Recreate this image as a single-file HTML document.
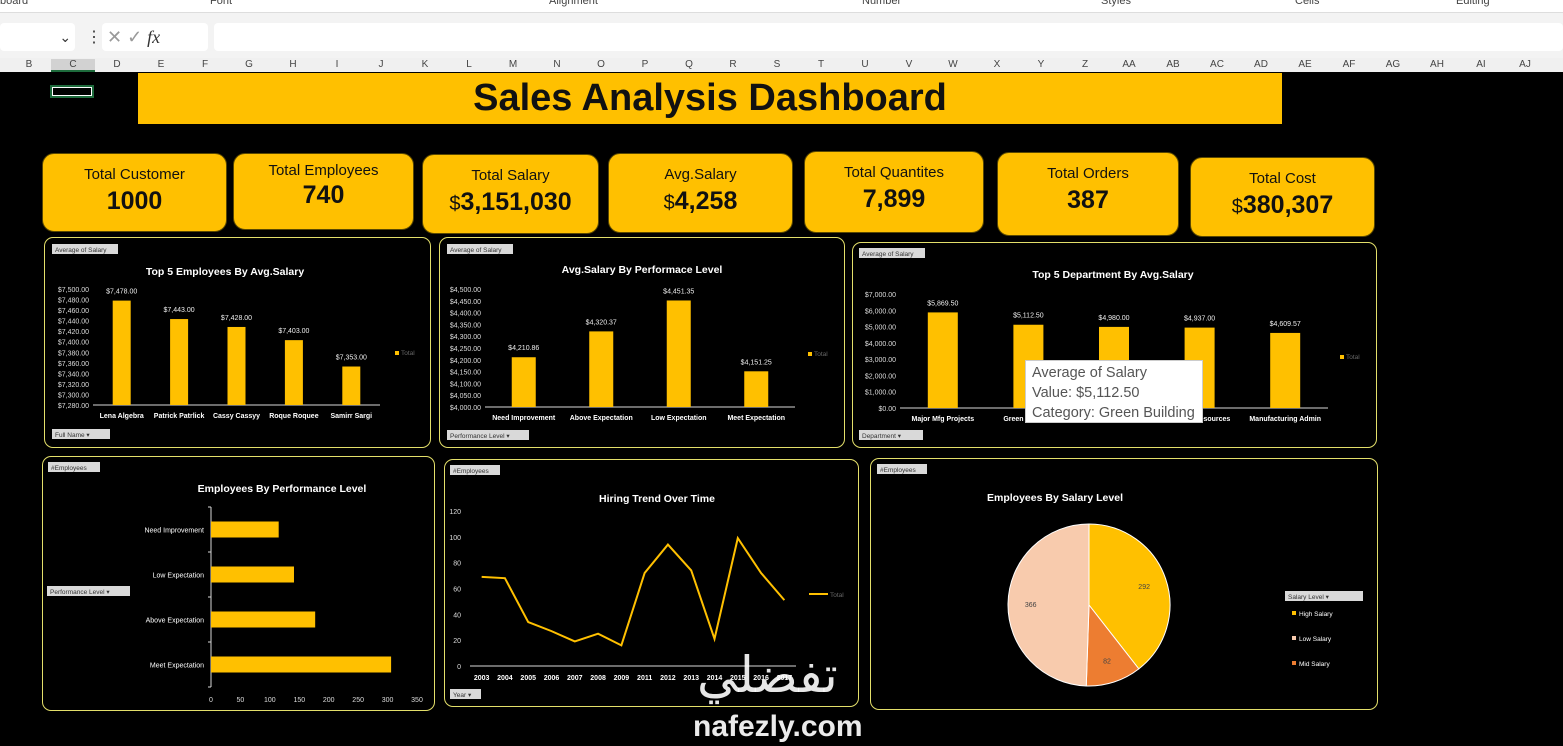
<!DOCTYPE html>
<html><head><meta charset="utf-8">
<style>
body{margin:0;width:1563px;height:746px;overflow:hidden;background:#000;font-family:"Liberation Sans",sans-serif;position:relative}
.abs{position:absolute}
.card{position:absolute;background:#FFC000;border:1px solid #5a4800;border-radius:12px;text-align:center;color:#111}
.card .t{font-size:15px;margin-top:12px}
.card .v{font-size:25px;font-weight:bold;margin-top:4px}
.card .v small{font-size:20px;font-weight:normal}
.panel{position:absolute;border:1px solid #e3df6a;border-radius:9px}
</style></head><body>
<div class="abs" style="left:0;top:0;width:1563px;height:12px;background:#fff;border-bottom:1px solid #ddd;font-size:11px;color:#444">
<span style="position:absolute;left:0;top:-5px">board</span><span style="position:absolute;left:210px;top:-5px">Font</span><span style="position:absolute;left:549px;top:-5px">Alignment</span><span style="position:absolute;left:862px;top:-5px">Number</span><span style="position:absolute;left:1101px;top:-5px">Styles</span><span style="position:absolute;left:1295px;top:-5px">Cells</span><span style="position:absolute;left:1456px;top:-5px">Editing</span></div>
<div class="abs" style="left:0;top:13px;width:1563px;height:45px;background:#f3f3f3">
<div style="position:absolute;left:0;top:10px;width:75px;height:28px;background:#fff;border-radius:4px;font-size:14px;color:#333;text-align:right;line-height:28px;padding-right:0">⌄&nbsp;</div>
<div style="position:absolute;left:86px;top:14px;font-size:16px;color:#333">⋮</div>
<div style="position:absolute;left:102px;top:10px;width:106px;height:28px;background:#fff;border-radius:4px;font-size:18px;color:#999;line-height:28px">&nbsp;✕ ✓ <i style="color:#333;font-family:'Liberation Serif',serif">fx</i></div>
<div style="position:absolute;left:214px;top:10px;width:1349px;height:28px;background:#fff;border-radius:4px"></div></div>
<div class="abs" id="colhdr" style="left:0;top:58px;width:1563px;height:14px;background:#f0f0f0;font-size:10px;color:#444"></div>
<div class="abs" style="left:50px;top:85px;width:44px;height:13px;border:2px solid #1e6b3c;box-sizing:border-box;background:#000;outline:1px solid #fff;outline-offset:-3px"></div>
<div class="abs" style="left:138px;top:73px;width:1144px;height:51px;background:#FFC000;text-align:center;font-size:38px;font-weight:bold;line-height:51px;color:#111">Sales Analysis Dashboard</div>

<div class="card" style="left:42px;top:153px;width:183px;height:77px"><div class="t">Total Customer</div><div class="v">1000</div></div>
<div class="card" style="left:233px;top:153px;width:179px;height:75px"><div class="t" style="margin-top:8px">Total Employees</div><div class="v" style="margin-top:2px">740</div></div>
<div class="card" style="left:422px;top:154px;width:175px;height:78px"><div class="t">Total Salary</div><div class="v"><small>$</small>3,151,030</div></div>
<div class="card" style="left:608px;top:153px;width:183px;height:78px"><div class="t">Avg.Salary</div><div class="v"><small>$</small>4,258</div></div>
<div class="card" style="left:804px;top:151px;width:178px;height:80px"><div class="t">Total Quantites</div><div class="v">7,899</div></div>
<div class="card" style="left:997px;top:152px;width:180px;height:82px"><div class="t">Total Orders</div><div class="v">387</div></div>
<div class="card" style="left:1190px;top:157px;width:183px;height:78px"><div class="t">Total Cost</div><div class="v"><small>$</small>380,307</div></div>

<div class="panel" style="left:44px;top:237px;width:385px;height:209px"></div>
<div class="panel" style="left:439px;top:237px;width:404px;height:209px"></div>
<div class="panel" style="left:852px;top:242px;width:523px;height:204px"></div>
<div class="panel" style="left:42px;top:456px;width:391px;height:253px"></div>
<div class="panel" style="left:444px;top:459px;width:413px;height:246px"></div>
<div class="panel" style="left:870px;top:458px;width:506px;height:250px"></div>

<svg id="svg" class="abs" style="left:0;top:0" width="1563" height="746"></svg>

<div class="abs" style="left:1025px;top:360px;width:178px;height:63px;background:#fff;border:1px solid #ccc;font-size:14.5px;color:#555;line-height:20px;padding:2px 0 0 6px;box-sizing:border-box;white-space:nowrap">Average of Salary<br>Value: $5,112.50<br>Category: Green Building</div>
<div class="abs" style="left:697px;top:645px;font-size:50px;color:rgba(255,255,255,0.9);line-height:60px;font-family:'DejaVu Sans',sans-serif">تفضلي</div>
<div class="abs" style="left:693px;top:710px;font-size:30px;color:rgba(255,255,255,0.92);font-weight:bold">nafezly.com</div>

<script>
const empNames=["Lena Algebra","Patrick Patrlick","Cassy Cassyy","Roque Roquee","Samirr Sargi"];
const empSalary=[7478,7443,7428,7403,7353];
const empTicks=[7280,7300,7320,7340,7360,7380,7400,7420,7440,7460,7480,7500];
const perfNames=["Need Improvement","Above Expectation","Low Expectation","Meet Expectation"];
const perfSalary=[4210.86,4320.37,4451.35,4151.25];
const perfTicks=[4000,4050,4100,4150,4200,4250,4300,4350,4400,4450,4500];
const deptNames=["Major Mfg Projects","Green Building","Engineering","Human Resources","Manufacturing Admin"];
const deptSalary=[5869.5,5112.5,4980,4937,4609.57];
const deptTicks=[0,1000,2000,3000,4000,5000,6000,7000];
const empPerfNames=["Need Improvement","Low Expectation","Above Expectation","Meet Expectation"];
const empPerfCounts=[115,141,177,306];
const empPerfTicks=[0,50,100,150,200,250,300,350];
const years=["2003","2004","2005","2006","2007","2008","2009","2011","2012","2013","2014","2015","2016","2017"];
const hires=[69,68,34,27,19,25,16,72,94,74,21,99,72,51];
const hireTicks=[0,20,40,60,80,100,120];
const salaryLevels=["High Salary","Mid Salary","Low Salary"];
const salaryCounts=[292,82,366];
const legendLevels=["High Salary","Low Salary","Mid Salary"];

const NS="http://www.w3.org/2000/svg",svg=document.getElementById('svg');
const Y="#FFC000";
function el(t,a,txt){const e=document.createElementNS(NS,t);for(const k in a)e.setAttribute(k,a[k]);if(txt!==undefined)e.textContent=txt;svg.appendChild(e);return e;}
function txt(x,y,s,size,fill,anchor,bold){return el('text',{x:x,y:y,'font-size':size,fill:fill,'text-anchor':anchor||'start','font-weight':bold?'bold':'normal','font-family':'Liberation Sans, sans-serif'},s);}
function money(v){return '$'+v.toLocaleString('en-US',{minimumFractionDigits:2,maximumFractionDigits:2});}
function tag(x,y,w,s,arrow){const r=el('rect',{x:x,y:y,width:w,height:10,fill:'#d9d9d9'});txt(x+3,y+8,s+(arrow?'  ▾':''),6.5,'#333');}

const cols=["B","C","D","E","F","G","H","I","J","K","L","M","N","O","P","Q","R","S","T","U","V","W","X","Y","Z","AA","AB","AC","AD","AE","AF","AG","AH","AI","AJ"];
const ch=document.getElementById('colhdr');
cols.forEach((c,i)=>{const s=document.createElement('span');s.textContent=c;s.style.cssText='position:absolute;top:1px;width:44px;text-align:center;left:'+(7+i*44)+'px;'+(c==='C'?'background:#d2d2d2;border-bottom:2px solid #1e6b3c;height:11px;':'');ch.appendChild(s);});

function vbar(o){
  tag(o.tagX,o.tagY,66,'Average of Salary');
  txt(o.titleX,o.titleY,o.title,10.5,'#fff','middle',true);
  const sy=v=>o.y0-(v-o.min)/(o.max-o.min)*(o.y0-o.y1);
  o.ticks.forEach(t=>txt(o.x0-4,sy(t)+3,money(t),7,'#ddd','end'));
  el('line',{x1:o.x0,y1:o.y0,x2:o.x2,y2:o.y0,stroke:'#d9d9d9','stroke-width':1});
  const step=(o.x2-o.x0)/o.names.length;
  o.vals.forEach((v,i)=>{const cx=o.x0+step*(i+.5);
    const r=el('rect',{x:cx-o.bw/2,y:sy(v),width:o.bw,height:o.y0-sy(v),fill:Y});
    
    txt(cx,sy(v)-7,money(v),7,'#eee','middle');
    txt(cx,o.y0+13,o.names[i],7,'#fff','middle',true);});
  el('rect',{x:o.legX,y:o.legY-4,width:4,height:4,fill:Y});txt(o.legX+6,o.legY,'Total',6.5,'#666');
  tag(o.tagX,o.botY,o.botW,o.bot,true);
}
vbar({names:empNames,vals:empSalary,ticks:empTicks,min:7280,max:7500,x0:93,x2:380,y0:405,y1:289,bw:18,title:'Top 5 Employees By Avg.Salary',titleX:225,titleY:275,tagX:52,tagY:244,legX:395,legY:355,botY:429,botW:58,bot:'Full Name'});
vbar({names:perfNames,vals:perfSalary,ticks:perfTicks,min:4000,max:4500,x0:485,x2:795,y0:407,y1:289,bw:24,title:'Avg.Salary By Performace Level',titleX:642,titleY:273,tagX:447,tagY:244,legX:808,legY:356,botY:430,botW:82,bot:'Performance Level'});
vbar({names:deptNames,vals:deptSalary,ticks:deptTicks,min:0,max:7000,x0:900,x2:1328,y0:408,y1:294,bw:30,title:'Top 5 Department By Avg.Salary',titleX:1113,titleY:278,tagX:859,tagY:248,legX:1340,legY:359,botY:430,botW:64,bot:'Department'});

(function(){
  tag(48,462,52,'#Employees');tag(47,586,83,'Performance Level',true);
  txt(282,492,'Employees By Performance Level',10.5,'#fff','middle',true);
  const x0=211,x1=417,yTop=507,yBot=687;
  const sx=v=>x0+v/350*(x1-x0);
  el('line',{x1:x0,y1:yTop,x2:x0,y2:yBot,stroke:'#d9d9d9'});
  const step=(yBot-yTop)/empPerfNames.length;
  for(let i=0;i<=empPerfNames.length;i++)el('line',{x1:x0-3,y1:yTop+i*step,x2:x0,y2:yTop+i*step,stroke:'#d9d9d9'});
  empPerfNames.forEach((n,i)=>{const cy=yTop+step*(i+.5);
    const r=el('rect',{x:x0,y:cy-8,width:sx(empPerfCounts[i])-x0,height:16,fill:Y});
    
    txt(x0-7,cy+3,n,7,'#fff','end');});
  empPerfTicks.forEach(t=>txt(sx(t),702,String(t),7,'#ddd','middle'));
})();

(function(){
  tag(450,465,50,'#Employees');tag(450,689,31,'Year',true);
  txt(657,502,'Hiring Trend Over Time',10.5,'#fff','middle',true);
  const x0=470,x1=796,y0=666,y1=511;
  const sy=v=>y0-v/120*(y0-y1);const step=(x1-x0)/years.length;const sx=i=>x0+step*(i+.5);
  hireTicks.forEach(t=>txt(461,sy(t)+3,String(t),7,'#ddd','end'));
  el('line',{x1:x0,y1:y0,x2:x1,y2:y0,stroke:'#d9d9d9'});
  years.forEach((y,i)=>txt(sx(i),680,y,7,'#fff','middle',true));
  const p=el('polyline',{points:hires.map((v,i)=>sx(i)+','+sy(v)).join(' '),fill:'none',stroke:Y,'stroke-width':2});
  
  el('line',{x1:809,y1:594,x2:828,y2:594,stroke:Y,'stroke-width':2});txt(830,597,'Total',6.5,'#666');
})();

(function(){
  tag(877,464,50,'#Employees');
  txt(1055,501,'Employees By Salary Level',10.5,'#fff','middle',true);
  const cx=1089,cy=605,r=81,colors={"High Salary":"#FFC000","Mid Salary":"#ED7D31","Low Salary":"#F8CBAD"};
  const tot=salaryCounts.reduce((a,b)=>a+b,0);let a=-Math.PI/2;
  salaryLevels.forEach((n,i)=>{const da=salaryCounts[i]/tot*2*Math.PI,b=a+da;
    const d=`M${cx},${cy} L${cx+r*Math.cos(a)},${cy+r*Math.sin(a)} A${r},${r} 0 ${da>Math.PI?1:0} 1 ${cx+r*Math.cos(b)},${cy+r*Math.sin(b)} Z`;
    const s=el('path',{d:d,fill:colors[n],stroke:'#fff','stroke-width':1});
    
    const m=(a+b)/2,lr=r*0.72;txt(cx+lr*Math.cos(m),cy+lr*Math.sin(m)+3,String(salaryCounts[i]),7,'#444','middle');
    a=b;});
  tag(1285,591,78,'Salary Level',true);
  legendLevels.forEach((n,i)=>{el('rect',{x:1292,y:611+i*25,width:4,height:4,fill:colors[n]});txt(1299,616+i*25,n,6.5,'#fff');});
})();
</script>
</body></html>
